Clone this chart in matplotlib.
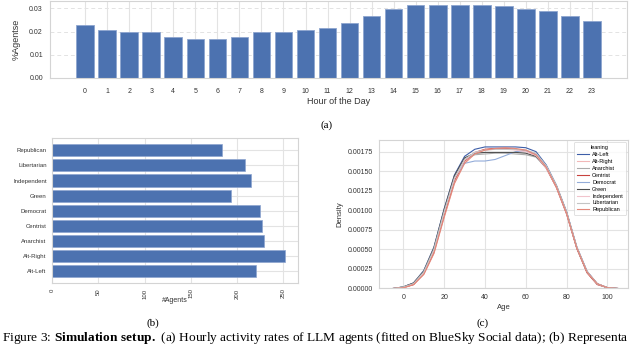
import matplotlib
matplotlib.use("Agg")
import matplotlib.pyplot as plt
import numpy as np

# ---------------- data ----------------
hours = list(range(24))
hour_rates = [0.0229, 0.0208, 0.0198, 0.0198, 0.0178, 0.0167, 0.0167, 0.0178,
              0.0198, 0.0198, 0.0208, 0.0217, 0.0236, 0.0266, 0.0297, 0.0316,
              0.0316, 0.0316, 0.0316, 0.0309, 0.0297, 0.0287, 0.0266, 0.0247]

leanings = ["Alt-Left", "Alt-Right", "Anarchist", "Centrist", "Democrat",
            "Green", "Independent", "Libertarian", "Republican"]
agent_counts = [221, 252, 229, 227, 225, 193, 215, 209, 184]

ages = [-5, 0, 5, 10, 15, 20, 25, 30, 35, 40, 45, 50, 55, 60, 65, 70, 75, 80,
        85, 90, 95, 100, 105]
dens_alt_left = [0, 0.00002, 0.00007, 0.00023, 0.00053, 0.00102, 0.00145, 0.00169, 0.00178, 0.00181, 0.00181, 0.00181,
                 0.00181, 0.00180, 0.00175, 0.00158, 0.00132, 0.00098, 0.00053, 0.00022, 0.00006, 0.00001, 0]
dens_alt_right = [0, 0.00001, 0.00005, 0.00018, 0.00045, 0.00092, 0.00135, 0.00162, 0.00173, 0.00177, 0.00179, 0.00179,
                  0.00178, 0.00176, 0.00171, 0.00155, 0.00130, 0.00096, 0.00052, 0.00021, 0.00006, 0.00001, 0]
dens_anarchist = [0, 0.00002, 0.00007, 0.00022, 0.00052, 0.00100, 0.00143, 0.00165, 0.00171, 0.00172, 0.00173, 0.00173,
                  0.00172, 0.00171, 0.00168, 0.00154, 0.00130, 0.00096, 0.00052, 0.00021, 0.00006, 0.00001, 0]
dens_centrist = [0, 0.00001, 0.00005, 0.00019, 0.00047, 0.00094, 0.00138, 0.00163, 0.00174, 0.00178, 0.00179, 0.00179,
                 0.00178, 0.00176, 0.00170, 0.00154, 0.00129, 0.00095, 0.00051, 0.00020, 0.00005, 0.00001, 0]
dens_democrat = [0, 0.00002, 0.00007, 0.00022, 0.00052, 0.00100, 0.00142, 0.00160, 0.00163, 0.00163, 0.00165, 0.00170,
                 0.00175, 0.00176, 0.00172, 0.00157, 0.00131, 0.00097, 0.00053, 0.00022, 0.00006, 0.00001, 0]
dens_green = [0, 0.00002, 0.00007, 0.00022, 0.00052, 0.00101, 0.00144, 0.00167, 0.00173, 0.00174, 0.00174, 0.00174,
              0.00174, 0.00173, 0.00169, 0.00155, 0.00131, 0.00097, 0.00052, 0.00021, 0.00006, 0.00001, 0]
dens_independent = [0, 0.00001, 0.00006, 0.00020, 0.00049, 0.00097, 0.00140, 0.00164, 0.00174, 0.00177, 0.00178, 0.00178,
                    0.00177, 0.00175, 0.00170, 0.00154, 0.00130, 0.00096, 0.00052, 0.00021, 0.00006, 0.00001, 0]
dens_libertarian = [0, 0.00002, 0.00006, 0.00021, 0.00050, 0.00098, 0.00141, 0.00165, 0.00174, 0.00177, 0.00178, 0.00178,
                    0.00178, 0.00177, 0.00173, 0.00157, 0.00132, 0.00098, 0.00053, 0.00022, 0.00006, 0.00001, 0]
dens_republican = [0, 0.00001, 0.00005, 0.00018, 0.00045, 0.00091, 0.00134, 0.00160, 0.00172, 0.00177, 0.00179, 0.00180,
                   0.00179, 0.00177, 0.00171, 0.00155, 0.00130, 0.00096, 0.00052, 0.00021, 0.00006, 0.00001, 0]
density_series = [dens_alt_left, dens_alt_right, dens_anarchist, dens_centrist, dens_democrat,
                  dens_green, dens_independent, dens_libertarian, dens_republican]
leaning_colors = ["#3d5ea8", "#f2b8b8", "#ababab", "#c8423e", "#93acd9",
                  "#4e4e4e", "#f1c4cc", "#c4c4c4", "#e3887a"]

# ---------------- style ----------------
plt.rcParams['font.family'] = ['Liberation Sans', 'DejaVu Sans']
plt.rcParams['mathtext.fontset'] = 'custom'
plt.rcParams['mathtext.rm'] = 'Liberation Serif'
plt.rcParams['mathtext.bf'] = 'Liberation Serif:bold'
BAR = "#4c72b0"
GRID = "#e3e3e3"
EDGE = "#d4d4d4"

fig = plt.figure(figsize=(6.4, 3.48), dpi=100)


def style_axes(ax):
    ax.set_facecolor("white")
    for s in ax.spines.values():
        s.set_color(EDGE)
        s.set_linewidth(0.8)
    ax.tick_params(length=0, colors="#333333")
    ax.set_axisbelow(True)


# ---- (a) hourly activity ----
axa = fig.add_axes([0.078, 0.776, 0.902, 0.222])
style_axes(axa)
axa.bar(hours, hour_rates, width=0.8, color=BAR, edgecolor="#8ea5cf", linewidth=0.6)
axa.set_xlim(-1.6, 24.6)
axa.set_ylim(0, 0.0333)
axa.set_xticks(hours)
axa.set_xticklabels([str(h) for h in hours], fontsize=5)
axa.set_yticks([0, 0.01, 0.02, 0.03])
axa.set_yticklabels(["0.00", "0.01", "0.02", "0.03"], fontsize=5)
axa.tick_params(axis="x", pad=7)
axa.tick_params(axis="y", pad=5)
axa.xaxis.grid(True, color=GRID, linewidth=0.8)
axa.yaxis.grid(True, color=GRID, linewidth=0.7, linestyle=(0, (4, 3)))
axa.set_xlabel("Hour of the Day", fontsize=6.5, labelpad=2, color="#333333")
axa.set_ylabel("%Agentse", fontsize=6.5, labelpad=6, color="#333333")

# ---- (b) agents per leaning ----
axb = fig.add_axes([0.0817, 0.187, 0.3833, 0.416])
style_axes(axb)
ypos = np.arange(len(leanings))
axb.barh(ypos, agent_counts, height=0.8, color=BAR, edgecolor="#8ea5cf", linewidth=0.5)
axb.set_ylim(-0.76, 8.8)
axb.set_xlim(0, 265.6)
axb.set_yticks(ypos)
axb.set_yticklabels(leanings, fontsize=4.3)
axb.set_xticks([0, 50, 100, 150, 200, 250])
axb.set_xticklabels(["0", "50", "100", "150", "200", "250"], fontsize=4.3, rotation=90)
axb.tick_params(axis="x", pad=4)
axb.tick_params(axis="y", pad=4)
axb.xaxis.grid(True, color=GRID, linewidth=0.8)
axb.yaxis.grid(True, color=GRID, linewidth=0.8)
axb.set_xlabel("#Agents", fontsize=5, labelpad=-1, color="#333333")

# ---- (c) age density ----
axc = fig.add_axes([0.592, 0.171, 0.389, 0.427])
style_axes(axc)
for name, dens, col in zip(leanings, density_series, leaning_colors):
    axc.plot(ages, dens, color=col, linewidth=0.8, label=name, solid_joinstyle="round")
axc.set_xlim(-12, 110)
axc.set_ylim(0, 0.0019)
axc.set_xticks([0, 20, 40, 60, 80, 100])
axc.set_xticklabels(["0", "20", "40", "60", "80", "100"], fontsize=5)
axc.set_yticks([0, 0.00025, 0.0005, 0.00075, 0.001, 0.00125, 0.0015, 0.00175])
axc.set_yticklabels(["0.00000", "0.00025", "0.00050", "0.00075", "0.00100",
                     "0.00125", "0.00150", "0.00175"], fontsize=5)
axc.tick_params(axis="x", pad=4)
axc.tick_params(axis="y", pad=4)
axc.grid(True, color=GRID, linewidth=0.8)
axc.set_xlabel("Age", fontsize=5.5, labelpad=2, color="#333333")
axc.set_ylabel("Density", fontsize=5.5, labelpad=3, color="#333333")
leg = axc.legend(title="leaning", loc="upper right", fontsize=4, title_fontsize=4,
                 frameon=True, borderpad=0.5, labelspacing=0.35, handlelength=2.2,
                 handletextpad=0.6, borderaxespad=0.4)
leg.get_frame().set_edgecolor(EDGE)
leg.get_frame().set_linewidth(0.6)

# ---- captions ----
serif = ['Liberation Serif', 'DejaVu Serif']
fig.text(327 / 640, 1 - 125 / 348, "(a)", ha="center", va="center", fontsize=8, family=serif)
fig.text(153 / 640, 1 - 323 / 348, "(b)", ha="center", va="center", fontsize=8, family=serif)
fig.text(483 / 640, 1 - 323 / 348, "(c)", ha="center", va="center", fontsize=8, family=serif)
cap = fig.text(0.003, 1 - 338.5 / 348,
               r"Figure 3: $\mathbf{Simulation\ setup.}$ (a) Hourly activity rates of LLM agents "
               "(fitted on BlueSky Social data); (b) Representa",
               ha="left", va="center", fontsize=9, family=serif)
renderer = fig.canvas.get_renderer()
w = cap.get_window_extent(renderer).width
cap.set_fontsize(9 * 630.0 / w)

fig.savefig("out.png", dpi=100)
